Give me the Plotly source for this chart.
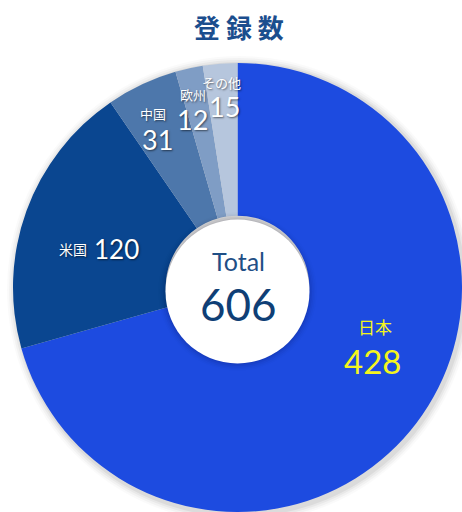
import plotly.graph_objects as go

labels = ["日本", "米国", "中国", "欧州", "その他"]
values = [428, 120, 31, 12, 15]
colors = ["#1d4be0", "#0a4690", "#4d77ab", "#7f9dc5", "#b6c6dd"]
title_text = "登 録 数"
total_label = "Total"

W, H = 462, 512

def px(x):
    return x / W

def py(y):
    return 1 - y / H

fig = go.Figure()
fig.add_trace(go.Pie(
    labels=labels,
    values=values,
    marker=dict(colors=colors, line=dict(width=0)),
    hole=0.32,
    sort=False,
    direction="clockwise",
    rotation=0,
    textinfo="none",
    hoverinfo="label+value",
    domain=dict(x=[13 / W, 1], y=[0, 1 - 63 / H]),
    showlegend=False,
))

# soft shadow around pie
shapes = []
cx, cy, r = 237.5, 287.5, 224.5
for i, op in enumerate([0.05, 0.04, 0.03, 0.02]):
    d = 2 + i * 2
    shapes.append(dict(type="circle", xref="paper", yref="paper", layer="below",
                       x0=px(cx - r - d + 2), x1=px(cx + r + d + 2),
                       y0=py(cy + r + d + 3), y1=py(cy - r - d + 1),
                       fillcolor=f"rgba(0,0,0,{op})", line=dict(width=0)))
# soft shadow around the hole (drawn over slices)
hr = 72
hcy = cy + 4
for i, op in enumerate([0.06, 0.045, 0.03, 0.02, 0.012]):
    d = 1 + i * 1.6
    shapes.append(dict(type="circle", xref="paper", yref="paper", layer="above",
                       x0=px(cx - hr - d), x1=px(cx + hr + d),
                       y0=py(hcy + hr + d), y1=py(hcy - hr - d),
                       fillcolor=f"rgba(0,0,30,{op})", line=dict(width=0)))
shapes.append(dict(type="circle", xref="paper", yref="paper", layer="above",
                   x0=px(cx - hr), x1=px(cx + hr),
                   y0=py(hcy + hr), y1=py(hcy - hr),
                   fillcolor="white", line=dict(width=0)))

num_font = "Lato"
jp_font = "Noto Sans CJK JP"
shadow = "1px 1px 2px rgba(0,0,0,0.55)"

ann = []
def add(text, x, y, size, color, family, sh="none", weight="normal"):
    ann.append(dict(text=text, x=px(x), y=py(y), xref="paper", yref="paper",
                    showarrow=False, xanchor="center", yanchor="middle",
                    font=dict(size=size, color=color, family=family, shadow=sh, weight=weight)))

add(title_text, 239, 26, 26, "#1b4e8e", jp_font, weight="bold")
add(total_label, 238, 261, 25, "#1f4f86", num_font)
add(str(sum(values)), 238, 304, 44, "#0f3f76", num_font)

add(labels[0], 375, 326, 17, "#f5f51c", jp_font)
add(str(values[0]), 372, 361, 33, "#f5f51c", num_font)
add(labels[1], 73, 249, 14, "white", jp_font, shadow)
add(str(values[1]), 116, 249, 26, "white", num_font, shadow)
add(labels[2], 153, 113, 13, "white", jp_font, shadow)
add(str(values[2]), 157, 139, 27, "white", num_font, shadow)
add(labels[3], 193, 94, 13, "white", jp_font, shadow)
add(str(values[3]), 192, 119, 27, "white", num_font, shadow)
add(labels[4], 221, 82, 13, "white", jp_font, shadow)
add(str(values[4]), 224, 106, 27, "white", num_font, shadow)

fig.update_layout(
    width=W, height=H,
    margin=dict(l=0, r=0, t=0, b=0),
    paper_bgcolor="white", plot_bgcolor="white",
    shapes=shapes, annotations=ann,
)
fig.write_html("out.html")
